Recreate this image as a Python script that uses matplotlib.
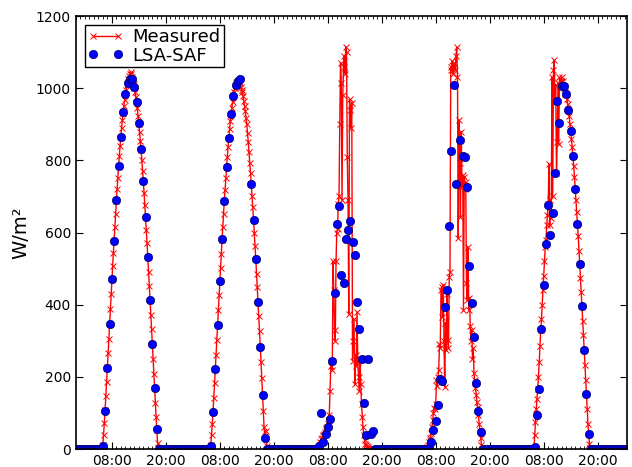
import numpy as np
import pandas as pd
import matplotlib
matplotlib.use("Agg")
import matplotlib.pyplot as plt
import matplotlib.dates as mdates

# time axis: 5 days, starts at midnight
t0 = pd.Timestamp("2013-06-10 00:00")
t_end = t0 + pd.Timedelta(hours=122.5)

# Measured irradiance, 10-min values from 05:50 each day (night = 0)
meas_day1 = [0, 12, 40, 72, 108, 146, 186, 226, 266, 306, 347, 388, 430, 470, 506, 542,
             578, 615, 652, 688, 720, 752, 784, 812, 840, 866, 890, 912, 932, 950, 968,
             984, 996, 1008, 1018, 1026, 1034, 1040, 1045, 1040, 1030, 1022, 1012, 1002,
             990, 976, 962, 944, 924, 902, 878, 855, 830, 802, 772, 742, 710, 676, 642,
             606, 570, 532, 492, 452, 412, 372, 332, 290, 250, 208, 168, 128, 90, 52, 18, 2, 0]
meas_day2 = [0, 10, 38, 70, 104, 142, 182, 222, 262, 303, 344, 385, 426, 466, 503, 540,
             580, 616, 652, 688, 718, 750, 782, 810, 838, 863, 886, 908, 928, 946, 962,
             978, 990, 1000, 1009, 1014, 1018, 1021, 1018, 1020, 1014, 1004, 996, 990,
             978, 966, 952, 936, 918, 900, 876, 850, 822, 794, 764, 734, 702, 670, 635,
             600, 564, 526, 486, 448, 408, 368, 326, 284, 240, 196, 150, 105, 62, 35, 50, 28, 8, 0]
meas_day3 = [0, 5, 12, 20, 28, 30, 35, 40, 42, 48, 52, 58, 62, 70, 80, 95, 160, 230, 245,
             220, 520, 440, 330, 300, 520, 600, 610, 680, 700, 900, 1070, 1015, 690, 980,
             1060, 1090, 1040, 1115, 1100, 810, 690, 375, 970, 940, 890, 960, 245, 300,
             360, 180, 260, 230, 380, 240, 200, 160, 250, 180, 125, 90, 60, 40, 25, 15,
             10, 8, 5, 3, 0]
meas_day4 = [0, 0, 5, 12, 20, 25, 30, 45, 60, 80, 100, 115, 110, 125, 190, 175, 200, 220,
             290, 280, 440, 450, 366, 455, 300, 172, 350, 274, 430, 302, 280, 477, 490,
             1060, 1050, 1075, 1040, 1060, 1070, 1050, 1090, 1113, 1030, 585, 912, 793,
             644, 880, 727, 760, 385, 755, 720, 740, 460, 413, 560, 385, 420, 340, 300,
             330, 250, 280, 210, 190, 170, 150, 130, 116, 95, 70, 50, 30, 12, 0]
meas_day5 = [0, 40, 75, 110, 140, 165, 200, 240, 285, 330, 360, 400, 440, 480, 520, 560,
             580, 620, 650, 680, 790, 620, 690, 640, 1031, 700, 1050, 1078, 960, 1010, 764,
             850, 1015, 846, 1030, 1010, 1020, 1031, 1010, 1020, 1000, 983, 990, 983, 970,
             955, 941, 922, 902, 882, 860, 836, 812, 785, 755, 722, 690, 656, 623, 590, 550,
             513, 475, 436, 396, 356, 315, 274, 234, 192, 152, 110, 70, 43, 15, 3, 0]
measured_days = [meas_day1, meas_day2, meas_day3, meas_day4, meas_day5]

# LSA-SAF, 30-min values 06:00..18:00 each day (nan = missing)
nan = np.nan
lsa_day1 = [9, 106, 224, 346, 470, 576, 690, 785, 866, 933, 983, 1015, 1025, 1026, 1004,
            963, 903, 831, 743, 643, 533, 413, 291, 168, 55]
lsa_day2 = [8, 103, 221, 344, 466, 581, 688, 782, 863, 928, 978, 1009, 1021, 1025,
            nan, nan, nan, nan, 734, 635, 526, 408, 284, 150, 30]
lsa_day3 = [8, 99, 20, 43, 60, 82, 244, 433, 624, 673, 481, 461, 583, 607, 632, 574, 538,
            407, 333, 249, 127, 39, 249, 43, 50]
lsa_day4 = [0, 3, 20, 53, 78, 122, 193, 189, 394, 441, 618, 826, 1009, 736, nan, 856, 813,
            810, 725, 508, 404, 310, 184, 106, 46]
lsa_day5 = [6, 94, 165, 333, 456, 568, 676, 593, 653, 766, 964, 905, 1007, 1006, 983, 941,
            882, 812, 722, 623, 513, 396, 274, 152, 43]
lsa_days = [lsa_day1, lsa_day2, lsa_day3, lsa_day4, lsa_day5]

t_meas = pd.date_range(t0, t_end, freq="10min")
meas = np.zeros(len(t_meas))
for d, vals in enumerate(measured_days):
    i0 = d * 144 + 35          # 05:50
    meas[i0:i0 + len(vals)] = vals

t_lsa = pd.date_range(t0, t_end, freq="30min")
lsa = np.zeros(len(t_lsa))
for d, vals in enumerate(lsa_days):
    i0 = d * 48 + 12           # 06:00
    lsa[i0:i0 + len(vals)] = vals

plt.rcParams['font.family'] = ['DejaVu Sans']
fig = plt.figure(figsize=(6.32, 4.67), dpi=100)
ax = fig.add_axes([0.120, 0.0385, 0.872, 0.927])

ax.plot(t_meas, meas, color='red', lw=1, marker='x', ms=5, mew=0.7, label='Measured')
ax.plot(t_lsa, lsa, 'o', color='blue', mec='#000060', mew=0.5, ms=6, label='LSA-SAF')

ax.set_xlim(t0, t_end)
ax.set_ylim(0, 1200)
ax.set_yticks(range(0, 1201, 200))
ax.xaxis.set_major_locator(mdates.HourLocator(byhour=[8, 20]))
ax.xaxis.set_minor_locator(mdates.HourLocator())
ax.xaxis.set_major_formatter(mdates.DateFormatter('%H:%M'))
ax.tick_params(which='both', direction='in', top=True, right=True, labelsize=10)
ax.tick_params(which='major', length=5)
ax.tick_params(which='minor', length=2.5)
for s in ax.spines.values():
    s.set_linewidth(1.2)

ax.set_ylabel('W/m²', fontsize=14)

leg = ax.legend(loc='upper left', numpoints=2, fontsize=13, fancybox=False,
                framealpha=1, edgecolor='black', borderaxespad=0.5,
                handlelength=2.0, borderpad=0.15, labelspacing=0.05, handletextpad=0.5)
leg.get_frame().set_linewidth(1.0)

fig.savefig('out.png', dpi=100)
